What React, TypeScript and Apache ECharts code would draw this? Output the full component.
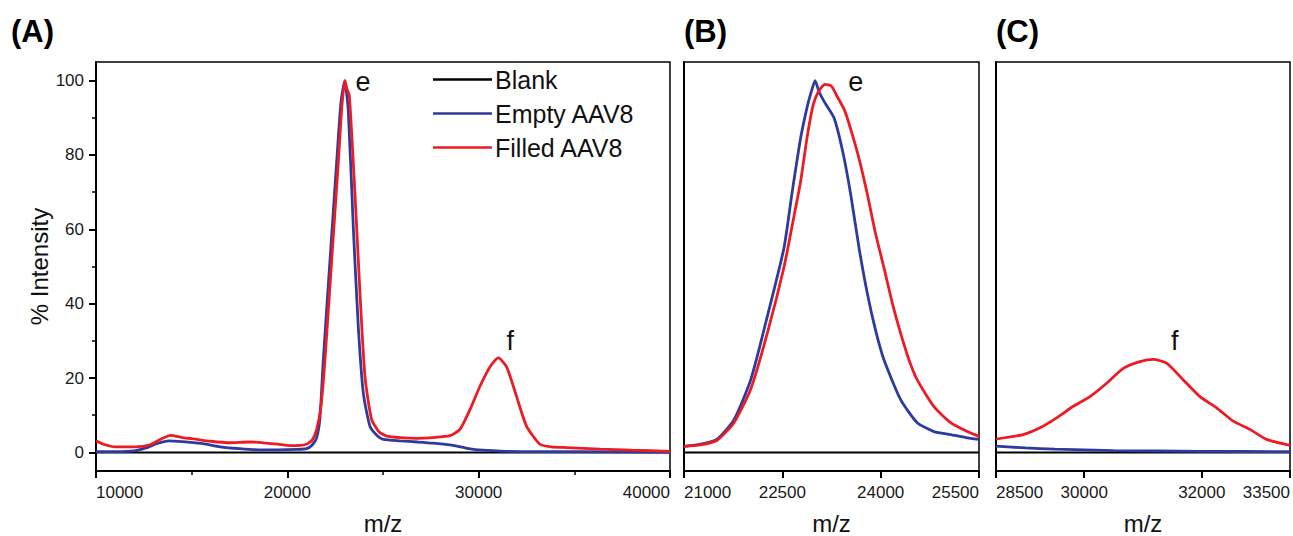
import React, { useEffect, useRef } from "react";
import * as echarts from "echarts";

const FONT = 'Arial, "Liberation Sans", Helvetica, sans-serif';
const RED = "#ec1c24";
const BLUE = "#2e3b9e";
const BLACK = "#000000";

const seriesNames = ["Blank", "Empty AAV8", "Filled AAV8"];
const panelTitles = ["(A)", "(B)", "(C)"];
const xAxisTitle = "m/z";
const yAxisTitle = "% Intensity";
const yMajorTicks = [0, 20, 40, 60, 80, 100];
const yMinorTicks = [10, 30, 50, 70, 90];
const yRange = [-5, 105];
const xRangeA = [10000, 40000];
const xRangeB = [21000, 25500];
const xRangeC = [28500, 33500];
const xIntervalA = 10000;
const xIntervalB = 1500;
const xTicksC = [28500, 30000, 32000, 33500];

// Panel A (full spectrum)
const emptyA: [number, number][] = [
  [10000, 0.2], [11000, 0.2], [12000, 0.4], [12600, 1.2], [13200, 2.4], [13800, 3.1],
  [14500, 2.9], [15500, 2.4], [16500, 1.5], [17500, 1.0], [18500, 0.7], [19500, 0.7],
  [20500, 0.8], [21000, 1.0], [21300, 2.0], [21533, 4], [21700, 9], [21880, 24.9],
  [22229, 51.6], [22578, 78], [22800, 94], [23000, 100], [23187, 91.7], [23448, 60.5],
  [23709, 33.8], [23970, 16], [24318, 7], [24700, 4.5], [25015, 3.5], [25900, 3.1],
  [26800, 2.8], [27600, 2.5], [28500, 2.0], [29400, 1.1], [30200, 0.6], [31500, 0.3],
  [33000, 0.2], [35000, 0.2], [40000, 0.1],
];
const filledA: [number, number][] = [
  [10000, 3.1], [10400, 2.2], [11000, 1.5], [12000, 1.5], [12800, 2.0], [13400, 3.6],
  [13900, 4.6], [14500, 4.0], [15000, 3.7], [16000, 3.0], [17000, 2.6], [18000, 2.8],
  [18500, 2.7], [19500, 2.2], [20200, 1.8], [21000, 2.2], [21300, 3.3], [21533, 6.2],
  [21750, 12], [21967, 24.9], [22316, 51.6], [22664, 78], [22850, 93], [23013, 100],
  [23100, 98], [23240, 96], [23535, 69.5], [23797, 42.8], [24058, 20.4], [24406, 8.8],
  [24800, 5.5], [25190, 4.4], [25900, 4.0], [26800, 3.8], [27600, 4.0], [28500, 4.5],
  [29022, 6.2], [29545, 11.5], [30067, 17.8], [30590, 23], [31025, 25.4], [31461, 23],
  [31984, 15], [32507, 7], [33203, 2.2], [33800, 1.5], [34597, 1.3], [36340, 0.9],
  [38000, 0.6], [40000, 0.3],
];
const blankA: [number, number][] = [[10000, 0], [40000, 0]];

// Panel B (peak e)
const emptyB: [number, number][] = [
  [21000, 1.6], [21250, 2.2], [21500, 3.5], [21763, 8.8], [22017, 19.5], [22270, 36.5],
  [22525, 55], [22650, 70], [22780, 84.6], [22880, 93], [22950, 97.5], [23000, 100],
  [23060, 97], [23150, 94], [23288, 90], [23420, 81], [23542, 69.5], [23670, 55],
  [23796, 42.8], [23920, 33], [24050, 24.9], [24305, 14.2], [24558, 8], [24813, 5.6],
  [25067, 4.8], [25300, 4.0], [25500, 3.5],
];
const filledB: [number, number][] = [
  [21000, 1.6], [21250, 2.0], [21500, 3.2], [21763, 8], [22017, 17], [22270, 32],
  [22525, 49.8], [22650, 61], [22780, 73], [22880, 85], [22973, 93.6], [23050, 97],
  [23150, 99], [23250, 98.5], [23328, 96], [23450, 92], [23542, 87], [23670, 79],
  [23796, 69.5], [23920, 59], [24050, 49.7], [24180, 40], [24305, 32], [24430, 25],
  [24558, 19.5], [24813, 12.3], [25067, 8], [25322, 5.6], [25500, 4.3],
];
const blankB: [number, number][] = [[21000, 0], [25500, 0]];

// Panel C (peak f)
const emptyC: [number, number][] = [
  [28500, 1.7], [29000, 1.2], [29500, 0.9], [30500, 0.5], [32000, 0.3], [33500, 0.2],
];
const filledC: [number, number][] = [
  [28500, 3.6], [28965, 4.8], [29248, 6.6], [29532, 9.3], [29815, 12.4], [30098, 15],
  [30382, 18.6], [30665, 22.6], [30948, 24.4], [31175, 25.0], [31402, 24], [31685, 19.5],
  [31968, 15], [32252, 12], [32535, 8.4], [32818, 6.2], [33102, 3.5], [33442, 2.1],
  [33500, 2.0],
];
const blankC: [number, number][] = [[28500, 0], [33500, 0]];

// peak annotations: [text, m/z, value]
const annotA: [string, number, number][] = [["e", 23950, 99.5], ["f", 31650, 30]];
const annotB: [string, number, number][] = [["e", 23620, 99.5]];
const annotC: [string, number, number][] = [["f", 31540, 30]];

export default function App() {
  const ref = useRef<HTMLDivElement>(null);
  useEffect(() => {
    document.body.style.margin = "0";
    if (!ref.current) return;
    const chart = echarts.init(ref.current, undefined, { renderer: "svg" });

    const gridBase = {
      top: 62,
      height: 409,
      show: true,
      borderColor: BLACK,
      borderWidth: 1.5,
      containLabel: false,
      outerBoundsMode: "none",
    };
    const lbl = { fontFamily: FONT, fontSize: 17, color: "#1a1a1a" };
    const axisLine = { show: true, onZero: false, lineStyle: { color: BLACK, width: 2 } };
    const nameStyle = { fontFamily: FONT, fontSize: 24, color: "#111" };
    const fmt = (v: number) => String(v);

    const xCommon = (gi: number) => ({
      gridIndex: gi,
      type: "value",
      axisLine,
      splitLine: { show: false },
      name: xAxisTitle,
      nameLocation: "middle",
      nameGap: 40,
      nameTextStyle: nameStyle,
    });

    const mkMark = (ann: [string, number, number][]) => ({
      symbol: "circle",
      symbolSize: 0,
      silent: true,
      animation: false,
      data: ann.map(([t, x, y]) => ({
        coord: [x, y],
        label: {
          show: true,
          formatter: t,
          position: "inside",
          fontFamily: FONT,
          fontSize: 27,
          color: "#111",
        },
      })),
    });

    const lineBase = {
      type: "line",
      symbol: "none",
      showSymbol: false,
      smooth: 0.2,
    };

    const mkSeries = (
      xi: number,
      yi: number,
      blank: [number, number][],
      empty: [number, number][],
      filled: [number, number][],
      ann: [string, number, number][]
    ) => [
      {
        ...lineBase, smooth: false,
        name: seriesNames[0], xAxisIndex: xi, yAxisIndex: yi, data: blank,
        lineStyle: { color: BLACK, width: 2 }, itemStyle: { color: BLACK },
      },
      {
        ...lineBase,
        name: seriesNames[1], xAxisIndex: xi, yAxisIndex: yi, data: empty,
        lineStyle: { color: BLUE, width: 2.8 }, itemStyle: { color: BLUE },
      },
      {
        ...lineBase,
        name: seriesNames[2], xAxisIndex: xi, yAxisIndex: yi, data: filled,
        lineStyle: { color: RED, width: 2.8 }, itemStyle: { color: RED },
        markPoint: mkMark(ann),
      },
    ];

    const option: any = {
      animation: false,
      backgroundColor: "#ffffff",
      title: panelTitles.map((t, i) => ({
        text: t,
        left: [6, 679, 991][i],
        top: 11,
        textStyle: { fontFamily: FONT, fontSize: 31, fontWeight: "bold", color: BLACK },
      })),
      legend: {
        data: seriesNames,
        orient: "vertical",
        left: 433,
        top: 67,
        padding: 0,
        icon: "rect",
        itemWidth: 59,
        itemHeight: 2.5,
        itemGap: 9,
        textStyle: { fontFamily: FONT, fontSize: 25, color: "#111", lineHeight: 23, padding: [0, 0, 0, -2] },
      },
      grid: [
        { ...gridBase, left: 96, width: 574 },
        { ...gridBase, left: 684, width: 295 },
        { ...gridBase, left: 996, width: 294 },
      ],
      xAxis: [
        {
          ...xCommon(0),
          min: xRangeA[0], max: xRangeA[1], interval: xIntervalA,
          axisTick: { show: true, length: 7, lineStyle: { color: BLACK, width: 2 } },
          minorTick: { show: true, splitNumber: 2, length: 4, lineStyle: { color: BLACK, width: 1.5 } },
          minorSplitLine: { show: false },
          axisLabel: { ...lbl, margin: 13, formatter: fmt, showMinLabel: true, showMaxLabel: true, alignMinLabel: "left", alignMaxLabel: "right" },
        },
        {
          ...xCommon(1),
          min: xRangeB[0], max: xRangeB[1], interval: xIntervalB,
          axisTick: { show: true, length: 7, lineStyle: { color: BLACK, width: 2 } },
          axisLabel: { ...lbl, margin: 13, formatter: fmt, showMinLabel: true, showMaxLabel: true, alignMinLabel: "left", alignMaxLabel: "right" },
        },
        {
          ...xCommon(2),
          min: xRangeC[0], max: xRangeC[1],
          axisTick: { show: true, length: 7, customValues: xTicksC, lineStyle: { color: BLACK, width: 2 } },
          axisLabel: { ...lbl, margin: 13, formatter: fmt, customValues: xTicksC, showMinLabel: true, showMaxLabel: true, alignMinLabel: "left", alignMaxLabel: "right" },
        },
      ],
      yAxis: [
        {
          gridIndex: 0, type: "value", min: yRange[0], max: yRange[1], position: "left",
          axisLine,
          splitLine: { show: false },
          axisTick: { show: true, length: 7, customValues: yMajorTicks, lineStyle: { color: BLACK, width: 2 } },
          axisLabel: { ...lbl, margin: 12, customValues: yMajorTicks, formatter: fmt },
          name: yAxisTitle, nameLocation: "middle", nameGap: 43, nameTextStyle: nameStyle,
        },
        {
          gridIndex: 0, type: "value", min: yRange[0], max: yRange[1], position: "left", offset: 0,
          axisLine: { show: false },
          splitLine: { show: false },
          axisTick: { show: true, length: 4, customValues: yMinorTicks, lineStyle: { color: BLACK, width: 1.5 } },
          axisLabel: { show: false },
        },
        {
          gridIndex: 1, type: "value", min: yRange[0], max: yRange[1], position: "left",
          axisLine, splitLine: { show: false }, axisTick: { show: false }, axisLabel: { show: false },
        },
        {
          gridIndex: 2, type: "value", min: yRange[0], max: yRange[1], position: "left",
          axisLine, splitLine: { show: false }, axisTick: { show: false }, axisLabel: { show: false },
        },
      ],
      series: [
        ...mkSeries(0, 0, blankA, emptyA, filledA, annotA),
        ...mkSeries(1, 2, blankB, emptyB, filledB, annotB),
        ...mkSeries(2, 3, blankC, emptyC, filledC, annotC),
      ],
    };
    chart.setOption(option);
    return () => chart.dispose();
  }, []);
  return <div ref={ref} style={{ width: 1293, height: 536 }} />;
}
